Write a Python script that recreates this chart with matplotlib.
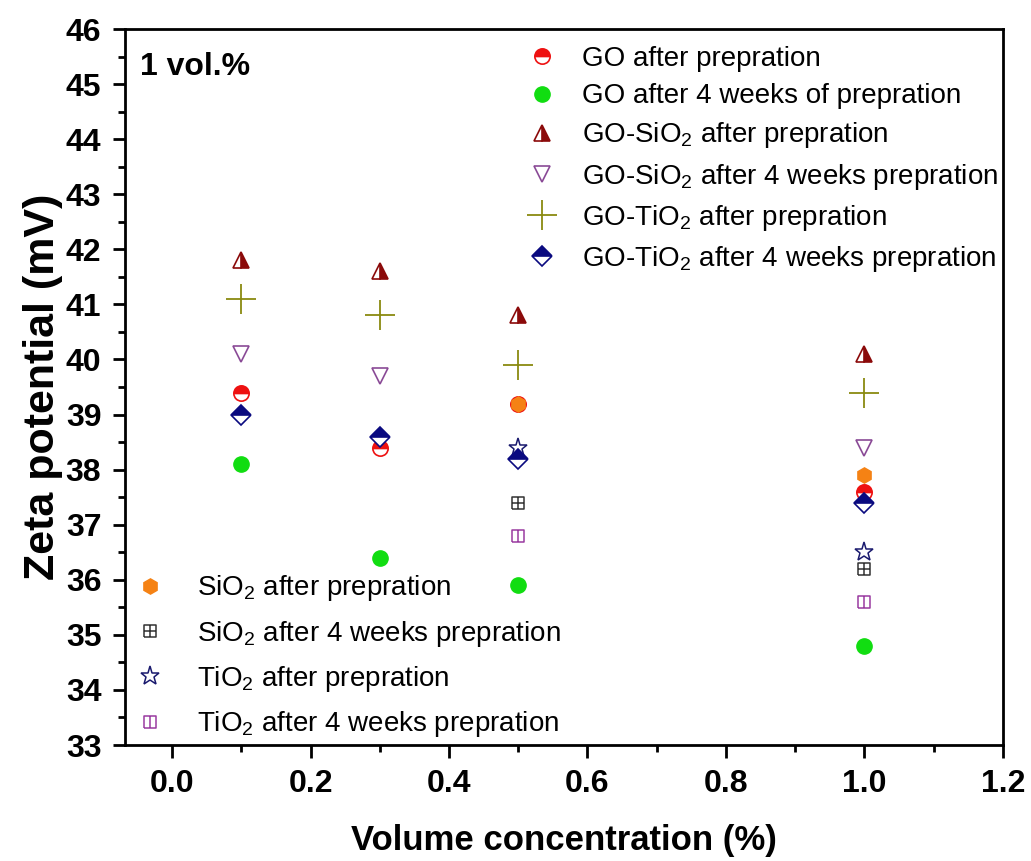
import numpy as np
import matplotlib
matplotlib.use("Agg")
import matplotlib.pyplot as plt
from matplotlib.path import Path
from matplotlib.ticker import MultipleLocator

plt.rcParams['font.family'] = ['Liberation Sans', 'DejaVu Sans']
plt.rcParams['mathtext.fontset'] = 'custom'
plt.rcParams['mathtext.rm'] = 'Liberation Sans'
plt.rcParams['mathtext.it'] = 'Liberation Sans:italic'
plt.rcParams['mathtext.bf'] = 'Liberation Sans:bold'

# Data (volume concentration %, zeta potential mV)
x_go = [0.1, 0.3, 0.5, 1.0]
go_after = [39.4, 38.4, 39.2, 37.6]
go_4w = [38.1, 36.4, 35.9, 34.8]
gosio2_after = [41.8, 41.6, 40.8, 40.1]
x_gosio2_4w = [0.1, 0.3, 1.0]
gosio2_4w = [40.1, 39.7, 38.4]
gotio2_after = [41.1, 40.8, 39.9, 39.4]
gotio2_4w = [39.0, 38.6, 38.2, 37.4]

x_oxide = [0.5, 1.0]
sio2_after = [39.2, 37.9]
sio2_4w = [37.4, 36.2]
tio2_after = [38.4, 36.5]
tio2_4w = [36.8, 35.6]

# custom square markers with inner lines
M, L = Path.MOVETO, Path.LINETO
sq_cross = Path([(-1, -1), (1, -1), (1, 1), (-1, 1), (-1, -1),
                 (0, -1), (0, 1), (-1, 0), (1, 0)],
                [M, L, L, L, L, M, L, M, L])
sq_vline = Path([(-1, -1), (1, -1), (1, 1), (-1, 1), (-1, -1),
                 (0, -1), (0, 1)],
                [M, L, L, L, L, M, L])

fig = plt.figure(figsize=(10.31, 8.61), dpi=100)
ax = fig.add_axes([0.1212, 0.1347, 0.8516, 0.8316])

ms = 11
h1 = []
h1.append(ax.plot(x_go, go_after, ls='none', marker='o', ms=ms, color='#ee1111',
                  fillstyle='top', markerfacecoloralt='white', mew=1.2,
                  label='GO after prepration')[0])
h1.append(ax.plot(x_go, go_4w, ls='none', marker='o', ms=ms, color='#11dd11',
                  label='GO after 4 weeks of prepration')[0])
h1.append(ax.plot(x_go, gosio2_after, ls='none', marker='^', ms=ms + 1, color='#8b0a0a',
                  fillstyle='right', markerfacecoloralt='white', mew=1.2,
                  label='GO-SiO$_2$ after prepration')[0])
h1.append(ax.plot(x_gosio2_4w, gosio2_4w, ls='none', marker='v', ms=ms + 1, color='#8a4a96',
                  mfc='none', mew=1.2,
                  label='GO-SiO$_2$ after 4 weeks prepration')[0])
h1.append(ax.plot(x_go, gotio2_after, ls='none', marker='+', ms=ms + 10, color='#8a8a10',
                  mew=1.3, label='GO-TiO$_2$ after prepration')[0])

h2 = []
h2.append(ax.plot(x_oxide, sio2_after, ls='none', marker='h', ms=ms, color='#f58214',
                  label='SiO$_2$ after prepration')[0])
h2.append(ax.plot(x_oxide, sio2_4w, ls='none', marker=sq_cross, ms=ms - 2, color='#333333',
                  mfc='none', mew=1.1, label='SiO$_2$ after 4 weeks prepration')[0])
h2.append(ax.plot(x_oxide, tio2_after, ls='none', marker='*', ms=ms + 3, color='#1a1a6e',
                  mfc='none', mew=1.1, label='TiO$_2$ after prepration')[0])
h2.append(ax.plot(x_oxide, tio2_4w, ls='none', marker=sq_vline, ms=ms - 2, color='#9a3aa0',
                  mfc='none', mew=1.1, label='TiO$_2$ after 4 weeks prepration')[0])

h1.append(ax.plot(x_go, gotio2_4w, ls='none', marker='D', ms=ms - 1, color='#0a0a80',
                  fillstyle='top', markerfacecoloralt='white', mew=1.2,
                  label='GO-TiO$_2$ after 4 weeks prepration')[0])

ax.set_xlim(-0.068, 1.2)
ax.set_ylim(33, 46)
ax.xaxis.set_major_locator(MultipleLocator(0.2))
ax.xaxis.set_minor_locator(MultipleLocator(0.1))
ax.yaxis.set_major_locator(MultipleLocator(1))
ax.yaxis.set_minor_locator(MultipleLocator(0.5))
ax.tick_params(which='both', direction='out', width=2, top=False, right=False)
ax.tick_params(which='major', length=9, labelsize=23, pad=8)
ax.tick_params(which='minor', length=5)
for lab in ax.get_xticklabels() + ax.get_yticklabels():
    lab.set_fontweight('bold')
for sp in ax.spines.values():
    sp.set_linewidth(2)

ax.set_xlabel('Volume concentration (%)', fontsize=25, fontweight='bold', labelpad=18)
ax.set_ylabel('Zeta potential (mV)', fontsize=31, fontweight='bold', labelpad=2)
ax.text(0.017, 0.968, '1 vol.%', transform=ax.transAxes, fontsize=23,
        fontweight='bold', va='top', ha='left')

leg1 = ax.legend(handles=h1, loc='upper right', frameon=False, fontsize=20,
                 borderpad=0, borderaxespad=0, handletextpad=0.85, labelspacing=0.4,
                 handlelength=1.2, bbox_to_anchor=(0.995, 0.976))
ax.add_artist(leg1)
ax.legend(handles=h2, loc='lower left', frameon=False, fontsize=20,
          borderpad=0, borderaxespad=0, handletextpad=1.1, labelspacing=0.55,
          handlelength=1.2, bbox_to_anchor=(0.0097, 0.008))

fig.savefig('out.png', dpi=100)
